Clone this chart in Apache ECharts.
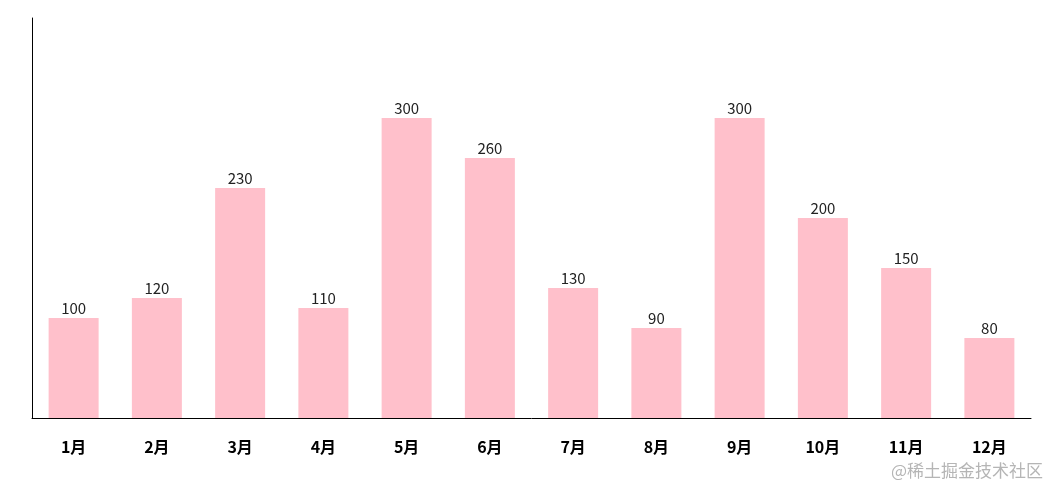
<!DOCTYPE html>
<html>
<head>
<meta charset="utf-8">
<script src="https://cdn.jsdelivr.net/npm/echarts@6/dist/echarts.min.js"></script>
<style>
  html, body { margin: 0; padding: 0; background: #fff; }
  #chart { width: 1050px; height: 485px; }
</style>
</head>
<body>
<div id="chart"></div>
<script>
const months = ['1月', '2月', '3月', '4月', '5月', '6月', '7月', '8月', '9月', '10月', '11月', '12月'];
const values = [100, 120, 230, 110, 300, 260, 130, 90, 300, 200, 150, 80];

const font = '"Noto Sans CJK SC", "Noto Sans", sans-serif';

const myChart = echarts.init(document.getElementById('chart'));
myChart.setOption({
    animation: false,
    grid: { left: 32, right: 19, top: 18, bottom: 67 },
    xAxis: {
        type: 'category',
        data: months,
        axisLine: { lineStyle: { color: '#000', width: 1 } },
        axisTick: { show: false },
        axisLabel: {
            color: '#000',
            fontWeight: 'bold',
            fontSize: 16,
            fontFamily: font,
            margin: 21
        }
    },
    yAxis: {
        type: 'value',
        min: 0,
        max: 400,
        axisLine: { show: true, lineStyle: { color: '#000', width: 1 } },
        axisTick: { show: false },
        axisLabel: { show: false },
        splitLine: { show: false }
    },
    graphic: [{
        type: 'text',
        right: 7,
        bottom: 6,
        style: {
            text: '@稀土掘金技术社区',
            fill: '#b5b5b5',
            fontSize: 17,
            fontFamily: font
        }
    }],
    series: [{
        type: 'bar',
        data: values,
        barWidth: 50,
        itemStyle: { color: '#ffc0cb' },
        label: {
            show: true,
            position: 'top',
            distance: 2,
            color: '#222',
            fontSize: 15,
            fontFamily: font
        }
    }]
});
</script>
</body>
</html>
